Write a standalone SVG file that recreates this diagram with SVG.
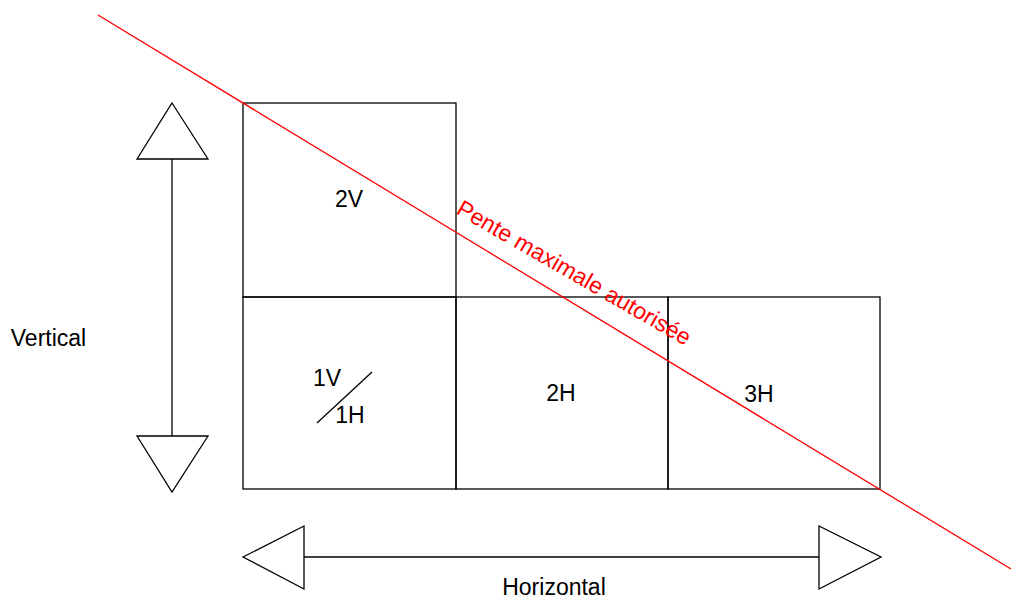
<svg xmlns="http://www.w3.org/2000/svg" width="1011" height="595" viewBox="0 0 1011 595">
<style>
.b{fill:none;stroke:#000;stroke-width:1.3}
.t{font-family:"Liberation Sans",Arial,sans-serif;font-size:23px;fill:#000}
.r{font-family:"Liberation Sans",Arial,sans-serif;font-size:23px;fill:#ff0000}
</style>
<rect width="1011" height="595" fill="#fff"/>
<g id="cell-2V"><rect class="b" x="243" y="103" width="213" height="194"/><text class="t" x="349" y="207" text-anchor="middle">2V</text></g>
<g id="cell-1V1H"><rect class="b" x="243" y="297" width="213" height="192"/><text class="t" x="327" y="386" text-anchor="middle">1V</text><line class="b" x1="317" y1="423" x2="372" y2="372"/><text class="t" x="350" y="423" text-anchor="middle">1H</text></g>
<g id="cell-2H"><rect class="b" x="456" y="297" width="212" height="192"/><text class="t" x="561" y="401" text-anchor="middle">2H</text></g>
<g id="cell-3H"><rect class="b" x="668" y="297" width="212" height="192"/><text class="t" x="759" y="402" text-anchor="middle">3H</text></g>
<g id="vertical-arrow"><polygon class="b" points="172,103 208,159 137,159"/><line class="b" x1="172" y1="159" x2="172" y2="436"/><polygon class="b" points="137,436 208,436 172,492"/></g>
<g id="horizontal-arrow"><polygon class="b" points="243,557 304,526 304,589"/><line class="b" x1="304" y1="557" x2="819" y2="557"/><polygon class="b" points="819,526 819,589 881,557"/></g>
<text id="label-vertical" class="t" x="48.5" y="346" text-anchor="middle">Vertical</text>
<text id="label-horizontal" class="t" x="554" y="595" text-anchor="middle">Horizontal</text>
<g id="slope"><line x1="98" y1="15" x2="1011" y2="569" stroke="#ff0000" stroke-width="1.3"/><text class="r" transform="translate(455,213) rotate(30)">Pente maximale autorisée</text></g>
</svg>
